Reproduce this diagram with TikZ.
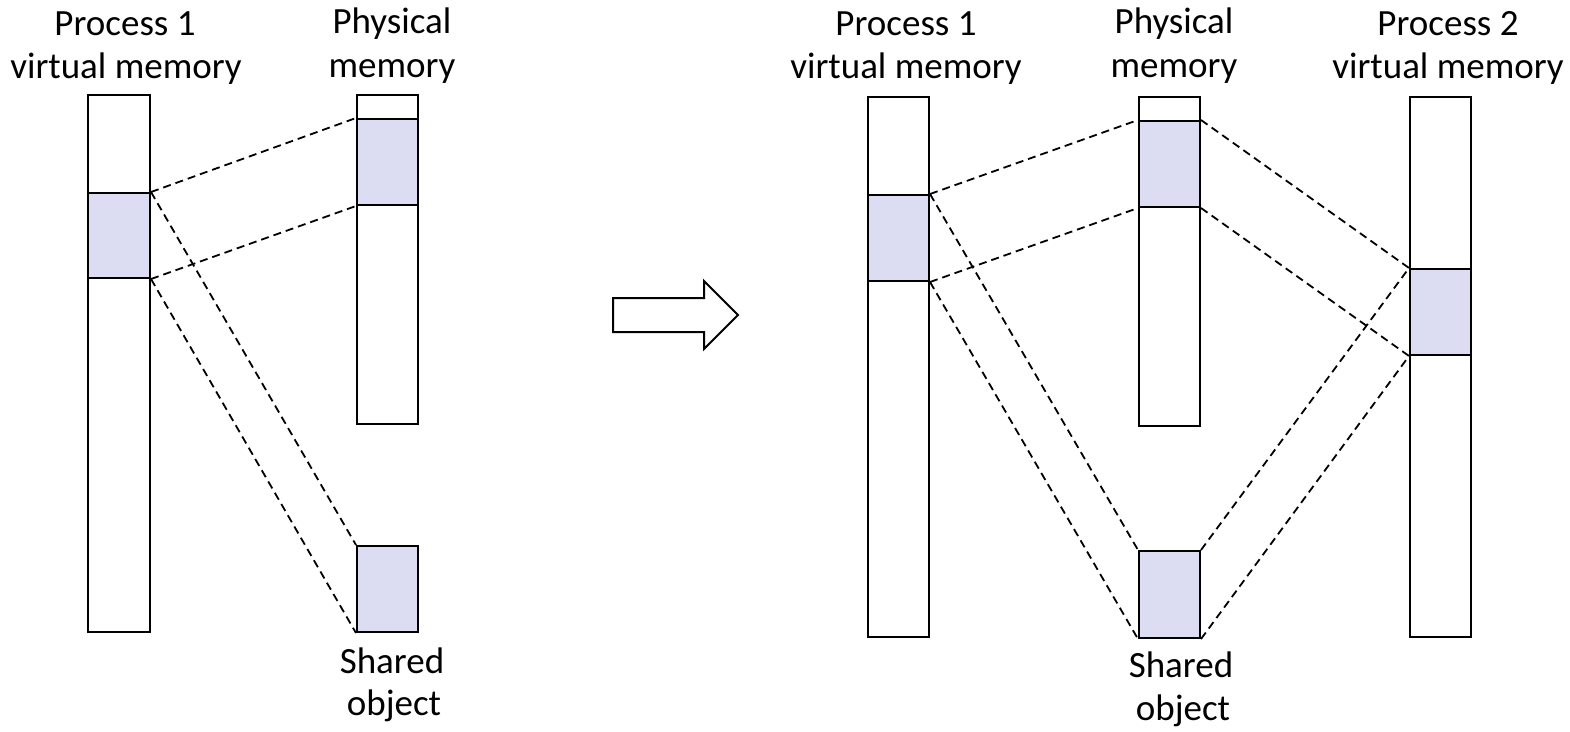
\documentclass[tikz,border=0pt]{standalone}
\usepackage{fontspec}
\setmainfont{Carlito}
\definecolor{shade}{RGB}{220,221,243}
\begin{document}
\begin{tikzpicture}[x=1pt,y=-1pt,
  bar/.style={draw=black,line width=2pt,fill=white,inner sep=0pt,anchor=north west,minimum width=#1},
  page/.style={draw=black,line width=2pt,fill=shade,inner sep=0pt,anchor=north west,minimum width=61pt},
  map/.style={draw=black,line width=1.8pt,dash pattern=on 8pt off 5pt},
  lbl/.style={font=\fontsize{37}{44}\selectfont,anchor=base,inner sep=0pt}]
\useasboundingbox (0,0) rectangle (1570,731);
% ---------- left panel ----------
\node[bar=62pt,minimum height=537pt] (lv) at (87,94) {};
\node[page,minimum width=62pt,minimum height=85pt] (lvs) at (87,192) {};
\node[bar=61pt,minimum height=329pt] (lp) at (356,94) {};
\node[page,minimum height=86pt] (lps) at (356,118) {};
\node[page,minimum height=86pt] (lso) at (356,545) {};
\draw[map] (lvs.north east) -- (lps.north west);
\draw[map] (lvs.south east) -- (lps.south west);
\draw[map] (lvs.north east) -- (lso.north west);
\draw[map] (lvs.south east) -- (lso.south west);
\node[lbl] (lt1) at (125,35) {Process 1};
\node[lbl] (lt2) at (126,78) {virtual memory};
\node[lbl] (lt3) at (392,33) {Physical};
\node[lbl] (lt4) at (392,77) {memory};
\node[lbl] (lt5) at (392,673) {Shared};
\node[lbl] (lt6) at (394,715) {object};
% ---------- arrow ----------
\draw[line width=2pt,line join=miter,fill=white] (613,298) -- (704,298) -- (704,281) -- (738,315) -- (704,349) -- (704,332) -- (613,332) -- cycle;
% ---------- right panel ----------
\node[bar=61pt,minimum height=540pt] (rv) at (867,96) {};
\node[page,minimum height=86pt] (rvs) at (867,194) {};
\node[bar=61pt,minimum height=329pt] (rp) at (1138,96) {};
\node[page,minimum height=86pt] (rps) at (1138,120) {};
\node[page,minimum height=87pt] (rso) at (1138,550) {};
\node[bar=61pt,minimum height=540pt] (rw) at (1409,96) {};
\node[page,minimum height=86pt] (rws) at (1409,268) {};
\draw[map] (rvs.north east) -- (rps.north west);
\draw[map] (rvs.south east) -- (rps.south west);
\draw[map] (rvs.north east) -- (rso.north west);
\draw[map] (rvs.south east) -- (rso.south west);
\draw[map] (rps.north east) -- (rws.north west);
\draw[map] (rps.south east) -- (rws.south west);
\draw[map] (rso.north east) -- (rws.north west);
\draw[map] (rso.south east) -- (rws.south west);
\node[lbl] (rt1) at (906,35) {Process 1};
\node[lbl] (rt2) at (906,78) {virtual memory};
\node[lbl] (rt3) at (1174,33) {Physical};
\node[lbl] (rt4) at (1174,77) {memory};
\node[lbl] (rt5) at (1448,35) {Process 2};
\node[lbl] (rt6) at (1448,78) {virtual memory};
\node[lbl] (rt7) at (1181,677) {Shared};
\node[lbl] (rt8) at (1183,720) {object};
\end{tikzpicture}
\end{document}
